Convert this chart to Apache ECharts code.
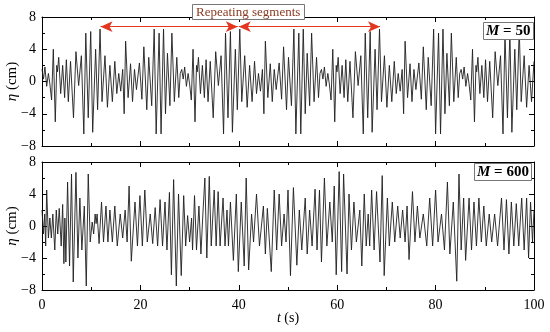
<!DOCTYPE html>
<html>
<head>
<meta charset="utf-8">
<script src="https://cdn.jsdelivr.net/npm/echarts@6/dist/echarts.min.js"></script>
<style>html,body{margin:0;padding:0;background:#fff}#c{width:550px;height:332px}</style>
</head>
<body>
<div id="c"></div>
<script>
// ---- data: [t (s), eta (cm)] at the turning points ----
const m50Series = [
[0.0,1.5],[0.3,0.3],[0.6,1.8],[0.95,-0.6],[1.3,1.0],[1.6,-0.3],[1.95,-2.3],[2.3,4.0],[2.7,-5.0],[3.0,2.0],[3.15,1.2],[3.4,3.0],[3.8,-1.5],[4.2,2.0],[4.6,-2.0],[4.95,2.7],[5.35,-2.5],[5.8,2.5],[6.4,-4.5],[6.9,3.7],[7.45,-0.5],[8.0,3.2],[8.5,-6.5],[8.9,6.0],[9.4,-4.5],[9.9,6.2],[10.3,-6.3],[10.9,4.0],[11.3,-3.5],[11.8,6.5],[12.2,-2.5],[12.8,3.2],[13.3,-3.2],[13.8,2.0],[14.3,-2.5],[14.8,2.5],[15.2,-1.5],[15.6,1.0],[16.0,-1.2],[16.4,1.5],[16.7,-4.0],[17.0,5.0],[17.5,-2.0],[18.0,2.2],[18.4,-2.5],[18.8,1.5],[19.2,-1.0],[19.8,2.3],[20.3,-2.2],[20.7,4.3],[21.3,-3.5],[21.7,3.0],[22.3,-3.0],[22.8,6.5],[23.2,-6.5],[23.8,6.0],[24.2,-6.5],[24.7,6.5],[25.1,-4.0],[25.5,3.5],[26.0,-3.0],[26.4,6.0],[26.9,-2.5],[27.4,3.0],[27.8,-2.0],[28.1,1.0],
[28.4,1.5],[28.7,0.3],[29.0,1.8],[29.35,-0.6],[29.7,1.0],[30.0,-0.3],[30.35,-2.3],[30.7,4.0],[31.1,-5.0],[31.4,2.0],[31.55,1.2],[31.8,3.0],[32.2,-1.5],[32.6,2.0],[33.0,-2.0],[33.35,2.7],[33.75,-2.5],[34.2,2.5],[34.8,-4.5],[35.3,3.7],[35.85,-0.5],[36.4,3.2],[36.9,-6.5],[37.3,6.0],[37.8,-4.5],[38.3,6.2],[38.7,-6.3],[39.3,4.0],[39.7,-3.5],[40.2,6.5],[40.6,-2.5],[41.2,3.2],[41.7,-3.2],[42.2,2.0],[42.7,-2.5],[43.2,2.5],[43.6,-1.5],[44.0,1.0],[44.4,-1.2],[44.8,1.5],[45.1,-4.0],[45.4,5.0],[45.9,-2.0],[46.4,2.2],[46.8,-2.5],[47.2,1.5],[47.6,-1.0],[48.2,2.3],[48.7,-2.2],[49.1,4.3],[49.7,-3.5],[50.1,3.0],[50.7,-3.0],[51.2,6.5],[51.6,-6.5],[52.2,6.0],[52.6,-6.5],[53.1,6.5],[53.5,-4.0],[53.9,3.5],[54.4,-3.0],[54.8,6.0],[55.3,-2.5],[55.8,3.0],[56.2,-2.0],[56.5,1.0],
[56.8,1.5],[57.1,0.3],[57.4,1.8],[57.75,-0.6],[58.1,1.0],[58.4,-0.3],[58.75,-2.3],[59.1,4.0],[59.5,-5.0],[59.8,2.0],[59.95,1.2],[60.2,3.0],[60.6,-1.5],[61.0,2.0],[61.4,-2.0],[61.75,2.7],[62.15,-2.5],[62.6,2.5],[63.2,-4.5],[63.7,3.7],[64.25,-0.5],[64.8,3.2],[65.3,-6.5],[65.7,6.0],[66.2,-4.5],[66.7,6.2],[67.1,-6.3],[67.7,4.0],[68.1,-3.5],[68.6,6.5],[69.0,-2.5],[69.6,3.2],[70.1,-3.2],[70.6,2.0],[71.1,-2.5],[71.6,2.5],[72.0,-1.5],[72.4,1.0],[72.8,-1.2],[73.2,1.5],[73.5,-4.0],[73.8,5.0],[74.3,-2.0],[74.8,2.2],[75.2,-2.5],[75.6,1.5],[76.0,-1.0],[76.6,2.3],[77.1,-2.2],[77.5,4.3],[78.1,-3.5],[78.5,3.0],[79.1,-3.0],[79.6,6.5],[80.0,-6.5],[80.6,6.0],[81.0,-6.5],[81.5,6.5],[81.9,-4.0],[82.3,3.5],[82.8,-3.0],[83.2,6.0],[83.7,-2.5],[84.2,3.0],[84.6,-2.0],[84.9,1.0],
[85.2,1.5],[85.5,0.3],[85.8,1.8],[86.15,-0.6],[86.5,1.0],[86.8,-0.3],[87.15,-2.3],[87.5,4.0],[87.9,-5.0],[88.2,2.0],[88.35,1.2],[88.6,3.0],[89.0,-1.5],[89.4,2.0],[89.8,-2.0],[90.15,2.7],[90.55,-2.5],[91.0,2.5],[91.6,-4.5],[92.1,3.7],[92.65,-0.5],[93.2,3.2],[93.7,-6.5],[94.1,6.0],[94.6,-4.5],[95.1,6.2],[95.5,-6.3],[96.1,4.0],[96.5,-3.5],[97.0,6.5],[97.4,-2.5],[98.0,3.2],[98.5,-3.2],[99.0,2.0],[99.5,-2.5],[100.0,2.5]
];

const m600Series = [
[0.0,2.0],[0.3,-1.0],[0.55,1.5],[0.75,-2.5],[0.95,4.5],[1.3,-1.5],[1.6,1.0],[1.9,-1.5],[2.2,1.5],[2.6,-3.0],[2.9,2.0],[3.2,-1.0],[3.5,2.2],[3.9,-2.5],[4.2,2.7],[4.45,-4.7],[4.65,1.0],[4.85,-4.5],[5.2,5.5],[5.6,-5.0],[6.0,6.5],[6.35,-7.0],[6.9,6.7],[7.3,-4.0],[7.7,3.5],[8.1,-3.0],[8.6,2.5],[9.0,-7.5],[9.4,6.5],[9.8,-2.0],[10.2,0.5],[10.5,-1.0],[10.8,1.5],[11.0,0.3],[11.2,1.5],[11.6,-2.2],[12.1,3.0],[12.5,-2.0],[13.0,2.5],[13.4,-2.0],[13.8,2.0],[14.3,-2.0],[14.8,2.5],[15.3,-2.5],[15.9,1.5],[16.4,-1.5],[16.9,2.0],[17.3,-2.0],[17.7,5.0],[18.15,-4.4],[18.9,3.0],[19.4,-2.5],[19.9,3.8],[20.4,-2.5],[20.9,4.5],[21.4,-2.0],[22.0,1.5],[22.5,-2.2],[23.0,2.3],[23.5,-2.5],[24.0,3.3],[24.5,-2.5],[25.0,3.0],[25.4,-3.0],[25.9,4.2],[26.3,-6.1],[26.75,5.8],[27.3,-7.5],[27.75,4.0],[28.3,-6.2],[28.8,3.8],[29.2,-2.5],[29.6,1.3],[30.0,-2.0],[30.4,1.0],[30.6,-3.0],[31.0,3.8],[31.4,-3.0],[31.9,2.5],[32.3,-3.5],[32.7,1.5],[33.1,6.0],[33.5,-4.0],[34.0,6.2],[34.4,-2.5],[35.0,4.5],[35.4,-2.5],[35.8,4.3],[36.2,-2.5],[36.8,3.5],[37.2,-2.5],[37.6,2.0],[37.9,-2.5],[38.3,3.0],[38.9,-4.3],[39.5,4.0],[39.9,-5.7],[40.5,3.0],[41.1,-5.0],[41.5,6.0],[42.0,-5.5],[42.6,1.5],[43.0,-2.0],[43.6,4.0],[44.2,-2.5],[45.0,2.5],[45.4,-3.5],[45.8,2.2],[46.6,-5.7],[47.2,4.5],[47.7,-3.0],[48.2,4.0],[48.7,-2.5],[49.2,1.5],[49.6,-2.0],[50.0,4.5],[50.5,-6.2],[51.1,4.8],[51.8,-4.9],[52.3,2.0],[52.8,-3.0],[53.5,3.5],[53.9,-3.5],[54.4,2.0],[54.9,-2.5],[55.5,4.6],[55.9,-3.0],[56.4,4.5],[56.8,-4.5],[57.4,6.0],[57.9,-2.5],[58.5,3.0],[59.0,-2.0],[59.4,5.0],[59.8,-6.1],[60.4,6.8],[60.9,-5.7],[61.3,6.5],[62.0,-6.0],[62.4,4.0],[62.9,-3.0],[63.4,3.0],[63.9,-2.0],[64.6,2.0],[65.0,-5.0],[65.5,4.0],[65.9,-2.5],[66.3,1.5],[66.6,-2.5],[67.0,4.5],[67.5,-3.0],[68.0,4.3],[68.7,-4.5],[69.15,6.3],[69.55,-6.2],[70.2,3.5],[70.6,-2.5],[71.2,3.0],[71.7,-2.0],[72.3,2.5],[72.8,-1.5],[73.3,2.0],[73.8,-2.0],[74.2,2.5],[74.6,-4.2],[75.3,4.3],[75.8,-2.0],[76.3,2.5],[76.8,-1.5],[77.5,1.5],[78.2,-2.5],[78.8,3.5],[79.4,-2.5],[80.0,4.5],[80.5,-2.0],[81.2,1.5],[81.8,-3.0],[82.4,5.5],[82.9,-3.5],[83.6,3.0],[84.3,-6.9],[84.75,6.5],[85.2,-3.0],[85.7,3.5],[86.1,-4.3],[86.8,3.5],[87.3,-3.0],[87.8,3.0],[88.3,-2.5],[88.8,3.5],[89.3,-2.0],[89.8,2.5],[90.3,-2.5],[90.9,1.5],[91.4,-2.0],[92.0,1.5],[92.6,-2.5],[93.4,3.5],[93.9,-3.0],[94.4,3.3],[94.9,-3.5],[95.4,3.0],[95.9,-2.5],[96.4,2.8],[96.9,-2.5],[97.5,3.5],[98.0,-3.0],[98.5,3.5],[98.9,-4.0],[99.3,3.0],[99.7,-2.0],[100.0,2.0]
];

const xTicks = [0, 20, 40, 60, 80, 100];
const yTicks = [-8, -4, 0, 4, 8];
const repeatStarts = [11.9, 40.0];
const repeatEnds = [39.8, 68.7];
const arrowEta = 6.8;
const panelLabels = ['50', '600'];

const FONT = 'Liberation Serif';
const chart = echarts.init(document.getElementById('c'), null, {renderer: 'canvas'});

function yFmt(v) { return v < 0 ? '\u2212' + Math.abs(v) : String(v); }

function xAxisDef(grid, pos, labels) {
  return {
    type: 'value', gridIndex: grid, position: pos,
    min: xTicks[0], max: xTicks[xTicks.length - 1], interval: xTicks[1] - xTicks[0],
    axisLine: {show: true, onZero: false, lineStyle: {color: '#000', width: 1}},
    axisTick: {show: true, inside: true, length: 5, lineStyle: {color: '#000'}},
    minorTick: {show: true, splitNumber: 2, length: 3, lineStyle: {color: '#000'}},
    splitLine: {show: false},
    axisLabel: {show: labels, color: '#000', fontFamily: FONT, fontSize: 14, margin: 8},
    name: labels ? '{i|t} (s)' : '',
    nameLocation: 'middle', nameGap: 21, nameMoveOverlap: false,
    nameTextStyle: {color: '#000', fontFamily: FONT, fontSize: 14,
      rich: {i: {fontStyle: 'italic', fontFamily: FONT, fontSize: 14, color: '#000'}}}
  };
}
function yAxisDef(grid, pos, labels) {
  return {
    type: 'value', gridIndex: grid, position: pos,
    min: yTicks[0], max: yTicks[yTicks.length - 1], interval: yTicks[1] - yTicks[0],
    axisLine: {show: true, onZero: false, lineStyle: {color: '#000', width: 1}},
    axisTick: {show: true, inside: true, length: 5, lineStyle: {color: '#000'}},
    minorTick: {show: true, splitNumber: 2, length: 3, lineStyle: {color: '#000'}},
    splitLine: {show: false},
    axisLabel: {show: labels, color: '#000', fontFamily: FONT, fontSize: 14, margin: 6, formatter: yFmt},
    name: labels ? '{i|\u03b7} (cm)' : '',
    nameLocation: 'middle', nameGap: 22, nameRotate: 90, nameMoveOverlap: false,
    nameTextStyle: {color: '#000', fontFamily: FONT, fontSize: 15,
      rich: {i: {fontStyle: 'italic', fontFamily: FONT, fontSize: 15, color: '#000'}}}
  };
}

const arrowData = repeatStarts.map((s, i) => [{coord: [s, arrowEta]}, {coord: [repeatEnds[i], arrowEta]}]);

const boxText = {color: '#000', fontFamily: FONT, fontSize: 15, fontWeight: 'bold',
  rich: {i: {fontStyle: 'italic', fontWeight: 'bold', fontFamily: FONT, fontSize: 15, color: '#000'}}};

chart.setOption({
  animation: false,
  backgroundColor: '#fff',
  grid: [
    {left: 42, right: 16, top: 17, height: 129, containLabel: false, outerBoundsMode: 'none'},
    {left: 42, right: 16, top: 162, height: 128, containLabel: false, outerBoundsMode: 'none'}
  ],
  xAxis: [xAxisDef(0, 'bottom', false), xAxisDef(0, 'top', false), xAxisDef(1, 'bottom', true), xAxisDef(1, 'top', false)],
  yAxis: [yAxisDef(0, 'left', true), yAxisDef(0, 'right', false), yAxisDef(1, 'left', true), yAxisDef(1, 'right', false)],
  title: [
    {text: 'Repeating segments', left: 192, top: 4, padding: [2, 4, 1, 4],
     borderColor: '#777', borderWidth: 1, backgroundColor: '#fff',
     textStyle: {color: '#8a3a20', fontFamily: FONT, fontSize: 13, fontWeight: 'normal'}},
    {text: '{i|M} = ' + panelLabels[0], left: 483, top: 22, padding: [2, 3, 1, 3],
     borderColor: '#777', borderWidth: 1, backgroundColor: '#fff', textStyle: boxText},
    {text: '{i|M} = ' + panelLabels[1], left: 474, top: 163, padding: [2, 3, 1, 3],
     borderColor: '#777', borderWidth: 1, backgroundColor: '#fff', textStyle: boxText}
  ],
  series: [
    {type: 'line', xAxisIndex: 0, yAxisIndex: 0, data: m50Series, showSymbol: false,
     lineStyle: {color: '#1e1e1e', width: 0.9}, z: 2,
     markLine: {silent: true, symbol: ['arrow', 'arrow'], symbolSize: [8, 12],
       label: {show: false}, lineStyle: {color: '#e2361f', width: 1.2, type: 'solid'},
       itemStyle: {color: '#c8261a'}, data: arrowData}},
    {type: 'line', xAxisIndex: 2, yAxisIndex: 2, data: m600Series, showSymbol: false,
     lineStyle: {color: '#1e1e1e', width: 0.9}, z: 2}
  ]
});
</script>
</body>
</html>
